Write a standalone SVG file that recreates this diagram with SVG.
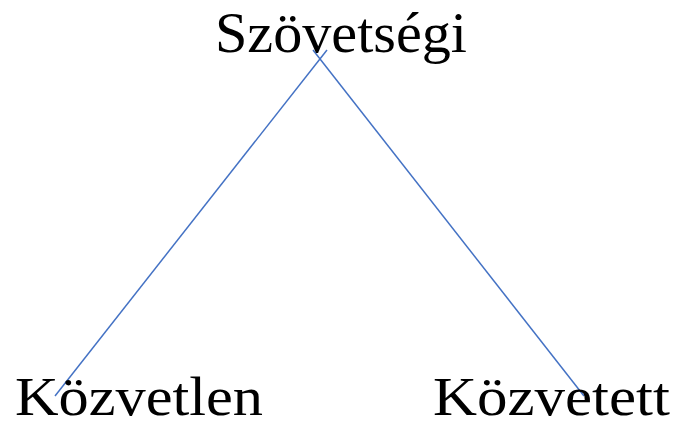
<svg xmlns="http://www.w3.org/2000/svg" width="677" height="427" viewBox="0 0 677 427">
<style>
.lbl{font-family:"Liberation Serif","DejaVu Serif",serif;font-size:58px;fill:#000}
.bot{font-size:55px}
.ln{stroke:#4472C4;stroke-width:1.5;fill:none}
</style>
<rect width="677" height="427" fill="#fff"/>
<g id="connectors">
<line class="ln" x1="327" y1="50" x2="55" y2="396"/>
<line class="ln" x1="313" y1="50" x2="584" y2="396"/>
</g>
<g id="node-szovetsegi"><text class="lbl" x="215" y="52" textLength="252" lengthAdjust="spacingAndGlyphs">Szövetségi</text></g>
<g id="node-kozvetlen"><text class="lbl bot" x="15" y="415" textLength="248" lengthAdjust="spacingAndGlyphs">Közvetlen</text></g>
<g id="node-kozvetett"><text class="lbl bot" x="433" y="415" textLength="237" lengthAdjust="spacingAndGlyphs">Közvetett</text></g>
</svg>
